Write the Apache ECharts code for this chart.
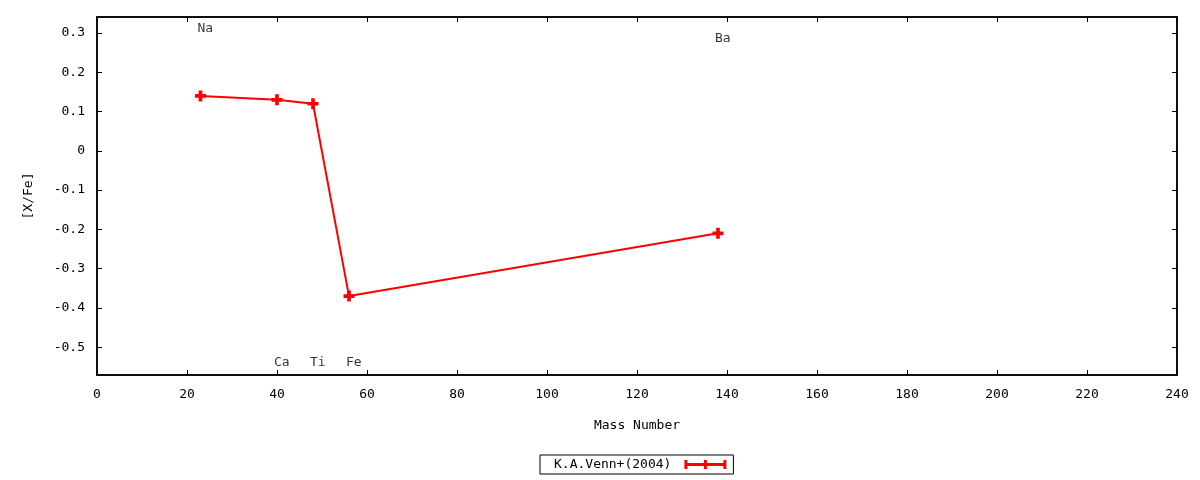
<!DOCTYPE html>
<html><head><meta charset="utf-8">
<script src="https://cdn.jsdelivr.net/npm/echarts@6/dist/echarts.min.js"></script>
<style>html,body{margin:0;padding:0;background:#fff}#c{width:1200px;height:480px}</style>
</head><body><div id="c"></div>
<script>
var elements = ['Na', 'Ca', 'Ti', 'Fe', 'Ba'];
var massNumber = [23, 40, 48, 56, 138];
var xFe = [0.14, 0.13, 0.12, -0.37, -0.21];
var labelY = [0.312, -0.54, -0.54, -0.54, 0.285];
var yTicks = [-0.5, -0.4, -0.3, -0.2, -0.1, 0, 0.1, 0.2, 0.3];
var seriesName = 'K.A.Venn+(2004)';

var FONT = 'DejaVu Sans Mono';
var FS = 13;
var plus = 'path://M3,0H6V3H9V6H6V9H3V6H0V3H3Z';
var legendIcon = 'path://M0,3H42V6H0Z M0,0H3V9H0Z M19.5,0H22.5V9H19.5Z M39,0H42V9H39Z';

var chart = echarts.init(document.getElementById('c'));
var tickStyle = {show: true, inside: true, length: 5, lineStyle: {color: '#000', width: 1}};
var lineStyle = {show: true, onZero: false, lineStyle: {color: '#000', width: 1.5}};
var yMin = -0.571, yMax = 0.341;

chart.setOption({
  animation: false,
  textStyle: {fontFamily: FONT},
  grid: {left: 97, right: 23, top: 17, bottom: 105, show: true, borderColor: '#000', borderWidth: 1.5},
  legend: {
    left: 540, top: 455, align: 'right', itemWidth: 42, itemHeight: 9,
    borderColor: '#000', borderWidth: 1, padding: [3, 7, 3, 14],
    textStyle: {fontFamily: FONT, fontSize: FS, color: '#000', padding: [0, 8, 0, 0]},
    data: [{name: seriesName, icon: legendIcon, itemStyle: {color: '#ff0000'}}]
  },
  xAxis: [{
    type: 'value', min: 0, max: 240, interval: 20, position: 'bottom',
    name: 'Mass Number', nameLocation: 'middle', nameGap: 44,
    nameTextStyle: {fontFamily: FONT, fontSize: FS, color: '#000'},
    axisLine: lineStyle, axisTick: tickStyle, splitLine: {show: false},
    axisLabel: {fontFamily: FONT, fontSize: FS, color: '#000', margin: 13}
  }, {
    type: 'value', min: 0, max: 240, interval: 20, position: 'top',
    axisLine: lineStyle, axisTick: tickStyle, splitLine: {show: false}, axisLabel: {show: false}
  }],
  yAxis: [{
    type: 'value', min: yMin, max: yMax, position: 'left',
    name: '[X/Fe]', nameLocation: 'middle', nameGap: 62, nameRotate: 90,
    nameTextStyle: {fontFamily: FONT, fontSize: FS, color: '#000'},
    axisLine: lineStyle, splitLine: {show: false},
    axisTick: Object.assign({customValues: yTicks}, tickStyle),
    axisLabel: {fontFamily: FONT, fontSize: FS, color: '#000', margin: 12, customValues: yTicks,
      formatter: function (v) { return String(Math.round(v * 10) / 10); }}
  }, {
    type: 'value', min: yMin, max: yMax, position: 'right',
    axisLine: lineStyle, splitLine: {show: false},
    axisTick: Object.assign({customValues: yTicks}, tickStyle),
    axisLabel: {show: false}
  }],
  series: [{
    name: seriesName, type: 'line',
    data: massNumber.map(function (m, i) { return [m, xFe[i]]; }),
    symbol: plus, symbolSize: 11, showAllSymbol: true,
    lineStyle: {color: '#ff0000', width: 2},
    itemStyle: {color: '#ff0000'}
  }, {
    name: 'labels', type: 'scatter', symbolSize: 0, silent: true,
    data: massNumber.map(function (m, i) { return {value: [m, labelY[i]], name: elements[i]}; }),
    label: {show: true, position: 'right', distance: -3, formatter: '{b}',
      fontFamily: FONT, fontSize: FS, color: '#000'}
  }]
});
</script></body></html>
